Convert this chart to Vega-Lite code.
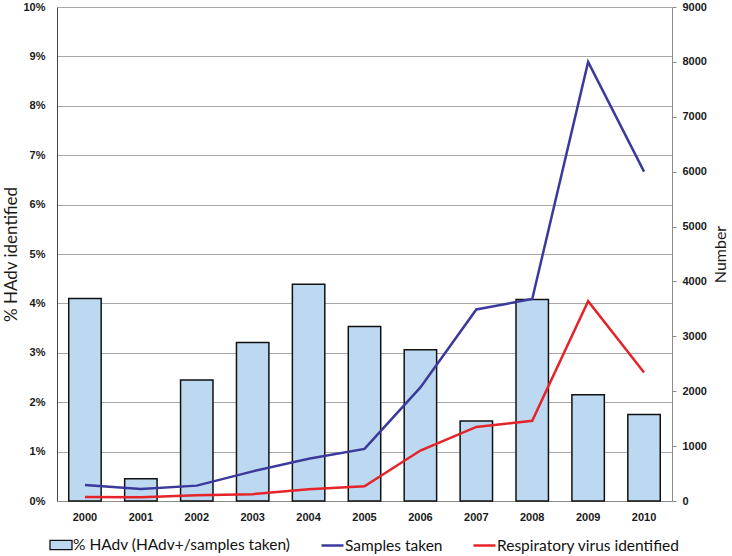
{
  "$schema": "https://vega.github.io/schema/vega-lite/v6.json",
  "width": 615,
  "height": 494,
  "autosize": {"type": "none"},
  "padding": {"left": 57, "top": 7, "right": 60, "bottom": 55},
  "background": "white",
  "config": {
    "view": {"stroke": null},
    "axis": {"labelFont": "Liberation Sans", "labelFontWeight": "bold", "labelFontSize": 11, "labelColor": "#1a1a1a", "titleFont": "Lato", "titleFontWeight": "normal", "titleFontSize": 16, "titleColor": "#1a1a1a"},
    "legend": {"labelFont": "Lato", "labelFontSize": 15.5, "labelColor": "#111111", "labelLimit": 0, "padding": 0, "title": null}
  },
  "data": {
    "values": [
      {"year": "2000", "pct": 0.041, "samples": 290, "resp": 75},
      {"year": "2001", "pct": 0.0045, "samples": 220, "resp": 70},
      {"year": "2002", "pct": 0.0245, "samples": 280, "resp": 105},
      {"year": "2003", "pct": 0.0321, "samples": 540, "resp": 125},
      {"year": "2004", "pct": 0.0439, "samples": 770, "resp": 215},
      {"year": "2005", "pct": 0.0353, "samples": 950, "resp": 270},
      {"year": "2006", "pct": 0.0306, "samples": 2070, "resp": 920},
      {"year": "2007", "pct": 0.0162, "samples": 3490, "resp": 1350},
      {"year": "2008", "pct": 0.0408, "samples": 3680, "resp": 1460},
      {"year": "2009", "pct": 0.0215, "samples": 8000, "resp": 3640},
      {"year": "2010", "pct": 0.0175, "samples": 6000, "resp": 2340}
    ]
  },
  "encoding": {
    "x": {
      "field": "year", "type": "ordinal",
      "scale": {"paddingInner": 0.42, "paddingOuter": 0.21},
      "axis": {"title": null, "labelAngle": 0, "ticks": false, "domainColor": "#8c8c8c", "labelPadding": 10, "grid": false}
    }
  },
  "layer": [
    {
      "mark": {"type": "bar", "stroke": "#111111", "strokeWidth": 1.5},
      "encoding": {
        "y": {
          "field": "pct", "type": "quantitative",
          "scale": {"domain": [0, 0.1], "nice": false},
          "axis": {"title": "% HAdv identified", "titleFontSize": 17, "format": ".0%", "values": [0, 0.01, 0.02, 0.03, 0.04, 0.05, 0.06, 0.07, 0.08, 0.09, 0.1], "grid": true, "gridColor": "#a8a8a8", "gridWidth": 1, "ticks": false, "domainColor": "#444444", "labelPadding": 12, "titlePadding": 2}
        },
        "fill": {
          "datum": "% HAdv (HAdv+/samples taken)",
          "scale": {"domain": ["% HAdv (HAdv+/samples taken)"], "range": ["#bcd9f1"]},
          "legend": {
            "orient": "none",
            "legendX": -7,
            "legendY": 527,
            "direction": "horizontal",
            "symbolType": "M-1.1,-0.47H1.1V0.47H-1.1Z",
            "symbolSize": 400,
            "symbolStrokeColor": "#111111",
            "symbolStrokeWidth": 1.3,
            "symbolOpacity": 1,
            "labelOffset": 1
          }
        }
      }
    },
    {
      "layer": [
        {
          "mark": {"type": "line", "strokeWidth": 2.5},
          "encoding": {
            "x": {"field": "year", "type": "ordinal", "bandPosition": 0.5},
            "y": {
              "field": "samples", "type": "quantitative",
              "scale": {"domain": [0, 9000], "nice": false},
              "axis": {"title": "Number", "orient": "right", "titleAngle": 270, "titleBaseline": "top", "values": [0, 1000, 2000, 3000, 4000, 5000, 6000, 7000, 8000, 9000], "format": "d", "grid": false, "ticks": true, "tickSize": 4, "tickColor": "#8c8c8c", "domainColor": "#8c8c8c", "labelPadding": 6, "titlePadding": 6}
            },
            "stroke": {
              "datum": "Samples taken",
              "scale": {"domain": ["Samples taken", "Respiratory virus identified"], "range": ["#3b3a9c", "#e5242a"]},
              "legend": {
                "orient": "none",
                "legendX": 264,
                "legendY": 527,
                "direction": "horizontal",
                "symbolType": "M-1.1,0H1.1",
                "symbolSize": 400,
                "symbolStrokeWidth": 2.5,
                "symbolOpacity": 1,
                "labelOffset": 1,
                "columnPadding": 25
              }
            }
          }
        },
        {
          "mark": {"type": "line", "strokeWidth": 2.5},
          "encoding": {
            "x": {"field": "year", "type": "ordinal", "bandPosition": 0.5},
            "y": {"field": "resp", "type": "quantitative"},
            "stroke": {"datum": "Respiratory virus identified"}
          }
        }
      ]
    }
  ],
  "resolve": {"scale": {"y": "independent"}}
}
